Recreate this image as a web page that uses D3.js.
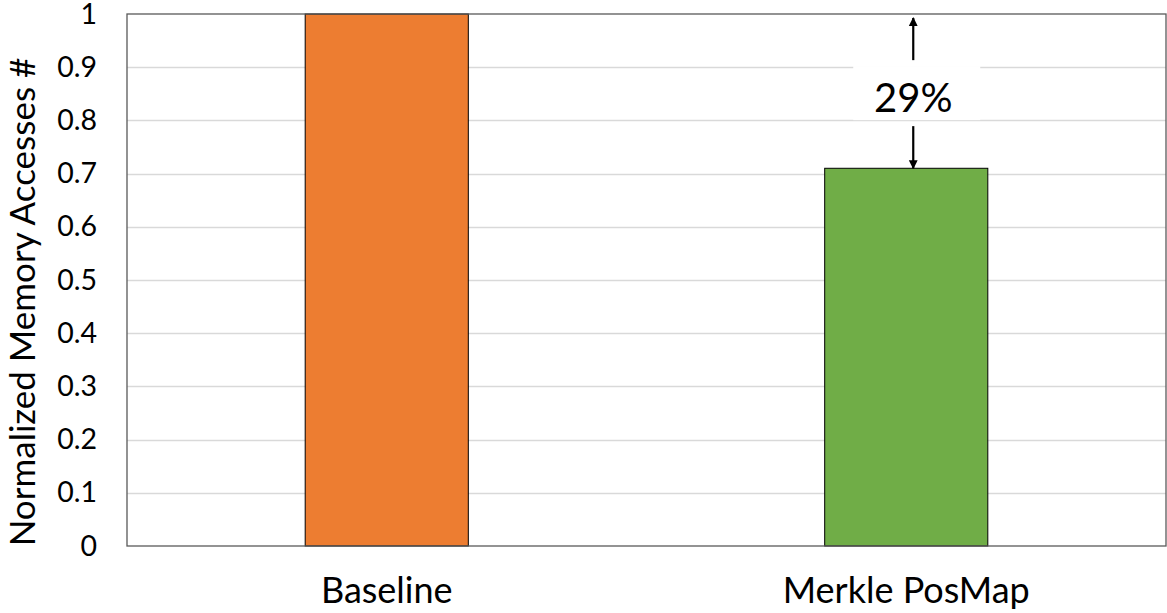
<!DOCTYPE html>
<html>
<head>
<meta charset="utf-8">
<script src="https://cdn.jsdelivr.net/npm/d3@7"></script>
<style>
  html, body { margin: 0; padding: 0; background: #fff; }
  svg { display: block; font-family: Lato, "Open Sans", sans-serif; }
</style>
</head>
<body>
<svg id="chart" width="1167" height="613"></svg>
<script>
// Normalized memory access counts per scheme
const categories = ["Baseline", "Merkle PosMap"];
const values = [1.0, 0.71];
const barColors = ["#ed7d31", "#70ad47"];
const yTicks = [0, 0.1, 0.2, 0.3, 0.4, 0.5, 0.6, 0.7, 0.8, 0.9, 1];
const reductionLabel = "29%";

const svg = d3.select("#chart");
const margin = { left: 127, top: 14, right: 1, bottom: 67 };
const W = 1167, H = 613;
const plotW = W - margin.left - margin.right;
const plotH = H - margin.top - margin.bottom;

const g = svg.append("g").attr("transform", `translate(${margin.left},${margin.top})`);

const x = d3.scaleBand().domain(categories).range([0, plotW]).paddingInner(0.686).paddingOuter(0.343);
const y = d3.scaleLinear().domain([0, 1]).range([plotH, 0]);

// Horizontal gridlines
g.append("g")
  .selectAll("line")
  .data(yTicks.filter(t => t > 0 && t < 1))
  .join("line")
  .attr("x1", 0).attr("x2", plotW)
  .attr("y1", d => Math.round(y(d)) + 0.5).attr("y2", d => Math.round(y(d)) + 0.5)
  .attr("stroke", "#d9d9d9").attr("stroke-width", 1.3);

// Bars
g.append("g")
  .selectAll("rect")
  .data(values)
  .join("rect")
  .attr("x", (d, i) => x(categories[i]))
  .attr("y", d => y(d))
  .attr("width", x.bandwidth())
  .attr("height", d => plotH - y(d))
  .attr("fill", (d, i) => barColors[i])
  .attr("stroke", "#000").attr("stroke-width", 1);

// Plot frame
g.append("rect")
  .attr("x", 0).attr("y", 0).attr("width", plotW).attr("height", plotH)
  .attr("fill", "none").attr("stroke", "#595959").attr("stroke-width", 1.3);

// Y axis labels
const yAxis = d3.axisLeft(y).tickValues(yTicks).tickFormat(d3.format("~g")).tickSize(0).tickPadding(30);
const ya = g.append("g").call(yAxis);
ya.select(".domain").remove();
ya.selectAll("text").attr("font-size", 28.5).attr("font-family", "Lato, 'Open Sans', sans-serif").attr("fill", "#000");

// X axis labels
const xAxis = d3.axisBottom(x).tickSize(0).tickPadding(31);
const xa = g.append("g").attr("transform", `translate(0,${plotH})`).call(xAxis);
xa.select(".domain").remove();
xa.selectAll("text").attr("font-size", 36).attr("font-family", "Lato, 'Open Sans', sans-serif").attr("fill", "#000");

// Y axis title
svg.append("text")
  .attr("transform", `translate(21,302) rotate(-90)`)
  .attr("text-anchor", "middle").attr("dominant-baseline", "central")
  .attr("font-size", 35).attr("fill", "#000")
  .text("Normalized Memory Accesses #");

// Reduction annotation between the two bar heights
const ax = x(categories[1]) + x.bandwidth() / 2 + 7;
const yTop = y(values[0]) + 4, yBot = y(values[1]);
const yMid = (yTop + yBot) / 2;
const defs = svg.append("defs");
defs.append("marker").attr("id", "arr").attr("viewBox", "0 0 10 10")
  .attr("refX", 9).attr("refY", 5).attr("markerWidth", 4).attr("markerHeight", 5)
  .attr("markerUnits", "strokeWidth").attr("orient", "auto")
  .append("path").attr("d", "M0,0 L10,5 L0,10 Z").attr("fill", "#000");

g.append("rect")
  .attr("x", ax - 60).attr("y", yMid - 27).attr("width", 127).attr("height", 54)
  .attr("fill", "#fff");
g.append("line").attr("x1", ax).attr("x2", ax).attr("y1", yMid - 33).attr("y2", yTop)
  .attr("stroke", "#000").attr("stroke-width", 2.2).attr("marker-end", "url(#arr)");
g.append("line").attr("x1", ax).attr("x2", ax).attr("y1", yMid + 33).attr("y2", yBot)
  .attr("stroke", "#000").attr("stroke-width", 2.2).attr("marker-end", "url(#arr)");
g.append("text")
  .attr("x", ax).attr("y", yMid + 4)
  .attr("text-anchor", "middle").attr("dominant-baseline", "central")
  .attr("font-size", 40).attr("fill", "#000")
  .text(reductionLabel);
</script>
</body>
</html>
